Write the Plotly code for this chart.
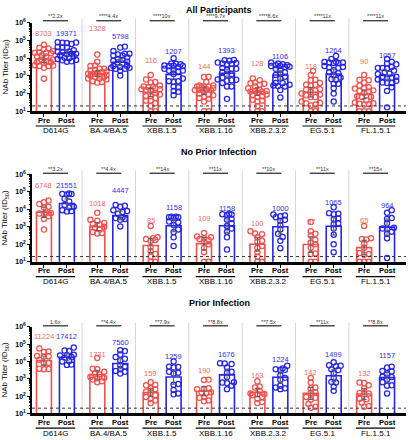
import numpy as np
import plotly.graph_objects as go

W, H = 408, 440

variants = ["D614G", "BA.4/BA.5", "XBB.1.5", "XBB.1.16", "XBB.2.3.2", "EG.5.1", "FL.1.5.1"]

# geometric mean titers (bar heights, printed labels)
gmt_p1_pre = [8703, 1328, 116, 144, 128, 118, 90]
gmt_p1_post = [19371, 5798, 1207, 1393, 1106, 1264, 1057]
gmt_p2_pre = [6748, 1018, 85, 109, 100, 97, 65]
gmt_p2_post = [21551, 4447, 1158, 1158, 1000, 1065, 964]
gmt_p3_pre = [11224, 1731, 159, 190, 163, 142, 132]
gmt_p3_post = [17412, 7560, 1259, 1676, 1224, 1499, 1157]

fold_p1 = ["**2.2x", "****4.4x", "****10x", "****9.7x", "****8.6x", "****11x", "****11x"]
fold_p2 = ["**3.2x", "**4.4x", "**14x", "**11x", "**10x", "**11x", "**15x"]
fold_p3 = ["1.6x", "**4.4x", "**7.9x", "**8.8x", "**7.5x", "**11x", "**8.8x"]

# individual log10 titers, No Prior Infection
p2_pre_log10 = [
    [4.50, 4.40, 4.30, 4.15, 4.10, 3.80, 3.78, 3.76, 3.74, 3.60, 3.45, 2.84],
    [3.80, 3.40, 3.35, 3.22, 3.18, 3.12, 3.00, 2.95, 2.85, 2.70, 2.65, 2.62],
    [3.05, 2.40, 2.35, 2.30, 2.25, 2.20, 1.85, 1.60, 1.45, 1.30, 1.00, 1.00],
    [2.65, 2.45, 2.40, 2.35, 2.30, 2.25, 2.15, 2.00, 1.80, 1.55, 1.00, 1.00],
    [2.75, 2.62, 2.58, 2.40, 2.20, 2.15, 1.90, 1.80, 1.55, 1.30, 1.00, 1.00],
    [3.28, 2.75, 2.60, 2.50, 2.25, 2.10, 2.00, 1.80, 1.48, 1.45, 1.00, 1.00],
    [3.05, 2.35, 2.30, 2.28, 2.05, 1.80, 1.50, 1.45, 1.40, 1.00, 1.00, 1.00],
]
p2_post_log10 = [
    [4.90, 4.88, 4.87, 4.85, 4.60, 4.45, 4.25, 4.15, 4.10, 3.95, 3.90, 3.88],
    [4.25, 4.20, 4.15, 3.95, 3.90, 3.85, 3.75, 3.55, 3.50, 3.45, 3.40, 3.02],
    [3.58, 3.57, 3.55, 3.55, 3.50, 3.30, 3.25, 3.10, 2.85, 2.70, 2.40, 1.90],
    [3.75, 3.72, 3.70, 3.68, 3.45, 3.40, 3.20, 3.05, 2.90, 2.72, 2.40, 1.70],
    [3.70, 3.65, 3.60, 3.55, 3.40, 3.35, 3.10, 2.85, 2.60, 2.42, 2.20, 1.78],
    [4.12, 3.78, 3.75, 3.72, 3.48, 3.45, 3.20, 3.15, 2.90, 2.55, 2.00, 1.55],
    [3.95, 3.80, 3.50, 3.45, 3.20, 2.95, 2.90, 2.88, 2.72, 2.60, 2.35, 1.22],
]
# individual log10 titers, Prior Infection
p3_pre_log10 = [
    [4.75, 4.58, 4.55, 4.32, 4.30, 4.28, 4.10, 3.92, 3.90, 3.58, 3.56, 3.55],
    [4.20, 3.58, 3.55, 3.40, 3.30, 3.25, 3.10, 3.05, 3.02, 2.95, 2.85, 2.80],
    [2.80, 2.65, 2.62, 2.45, 2.40, 2.25, 2.20, 2.05, 1.95, 1.85, 1.75, 1.60],
    [2.95, 2.93, 2.45, 2.42, 2.40, 2.22, 2.20, 2.18, 1.95, 1.90, 1.75, 1.70],
    [2.85, 2.55, 2.50, 2.30, 2.15, 2.12, 2.10, 2.05, 1.95, 1.85, 1.65, 1.60],
    [3.05, 2.78, 2.50, 2.45, 2.22, 2.18, 1.95, 1.90, 1.80, 1.55, 1.38, 1.33],
    [2.78, 2.75, 2.62, 2.45, 2.18, 2.15, 2.12, 1.85, 1.82, 1.62, 1.42, 1.38],
]
p3_post_log10 = [
    [4.80, 4.63, 4.60, 4.38, 4.36, 4.35, 4.25, 4.22, 4.02, 4.00, 3.82, 3.80],
    [4.65, 4.60, 4.40, 4.25, 4.15, 4.05, 3.80, 3.70, 3.55, 3.45, 3.40, 3.30],
    [4.00, 3.70, 3.68, 3.65, 3.40, 3.35, 3.30, 2.70, 2.65, 2.35, 2.15, 2.10],
    [3.90, 3.88, 3.85, 3.65, 3.40, 3.35, 3.10, 2.80, 2.78, 2.75, 2.60, 2.40],
    [3.75, 3.60, 3.55, 3.52, 3.50, 3.20, 3.05, 2.95, 2.60, 2.50, 2.45, 2.40],
    [3.95, 3.78, 3.75, 3.72, 3.55, 3.50, 3.32, 3.05, 2.82, 2.78, 2.55, 2.30],
    [3.70, 3.65, 3.45, 3.42, 3.30, 3.12, 3.10, 2.95, 2.80, 2.62, 2.60, 2.15],
]
# All participants = both cohorts together
p1_pre_log10 = [a + b for a, b in zip(p2_pre_log10, p3_pre_log10)]
p1_post_log10 = [a + b for a, b in zip(p2_post_log10, p3_post_log10)]

lod = 20

# ---- layout constants (text placement: log10 height of printed GMT labels) ----
lab_p1_pre = [5.39, 5.68, 3.89, 3.55, 3.72, 3.55, 3.83]
lab_p1_post = [5.39, 5.22, 4.39, 4.44, 4.10, 4.44, 4.17]
lab_p2_pre = [5.34, 4.34, 3.36, 3.45, 3.21, 3.32, 3.36]
lab_p2_post = [5.34, 5.09, 4.11, 4.07, 4.07, 4.39, 4.20]
lab_p3_pre = [5.43, 4.42, 3.32, 3.47, 3.18, 3.34, 3.30]
lab_p3_post = [5.43, 5.11, 4.30, 4.41, 4.09, 4.41, 4.32]

RED = "#f5504c"
BLUE = "#2424f0"
RED_T = "#f46a66"
BLUE_T = "#2f2ff0"
FONT = "Liberation Sans, Arial, sans-serif"

XL, XR = 32, 406
XRANGE = [-0.224, 6.785]
PPU = (XR - XL) / (XRANGE[1] - XRANGE[0])
POST_OFF = 0.43
BARW = 0.28


def py(px):
    return 1 - px / H


def swarm(vals, ppd, diam=4.6, maxw=8.5):
    ys = [v * ppd for v in vals]
    placed = []
    offs = [0.0] * len(ys)
    order = sorted(range(len(ys)), key=lambda i: ys[i])
    step = diam * 0.5
    cands = [0.0]
    k = 1
    while k * step <= maxw:
        cands += [k * step, -k * step]
        k += 1
    for i in order:
        best, bestd = 0.0, -1
        chosen = None
        for c in cands:
            dmin = min([((c - a) ** 2 + (ys[i] - b) ** 2) ** 0.5 for a, b in placed] or [99])
            if dmin >= diam * 0.95:
                chosen = c
                break
            if dmin > bestd:
                best, bestd = c, dmin
        if chosen is None:
            chosen = best
        placed.append((chosen, ys[i]))
        offs[i] = chosen / PPU
    return offs


panels = [
    dict(title="All Participants", pre=p1_pre_log10, post=p1_post_log10, gpre=gmt_p1_pre, gpost=gmt_p1_post,
         fold=fold_p1, lpre=lab_p1_pre, lpost=lab_p1_post, top=19, bot=109, brk=17, tpx=0),
    dict(title="No Prior Infection", pre=p2_pre_log10, post=p2_post_log10, gpre=gmt_p2_pre, gpost=gmt_p2_post,
         fold=fold_p2, lpre=lab_p2_pre, lpost=lab_p2_post, top=173, bot=262, brk=172, tpx=144),
    dict(title="Prior Infection", pre=p3_pre_log10, post=p3_post_log10, gpre=gmt_p3_pre, gpost=gmt_p3_post,
         fold=fold_p3, lpre=lab_p3_pre, lpost=lab_p3_post, top=328, bot=416, brk=327, tpx=298),
]

fig = go.Figure()
shapes = []
annotations = []
layout_axes = {}


def ann(**kw):
    d = dict(showarrow=False, xanchor="center", yanchor="middle")
    d.update(kw)
    annotations.append(d)


for k, P in enumerate(panels):
    sfx = "" if k == 0 else str(k + 1)
    xa, ya = "x" + sfx, "y" + sfx
    ppd = (P["bot"] - P["top"]) / 5.0
    pre_x = [float(i) for i in range(len(variants))]
    post_x = [i + POST_OFF for i in pre_x]

    for xs, g, col in ((pre_x, P["gpre"], RED), (post_x, P["gpost"], BLUE)):
        fig.add_trace(go.Bar(x=xs, y=g, width=BARW, xaxis=xa, yaxis=ya,
                             marker=dict(color="rgba(255,255,255,0)", line=dict(color=col, width=1.6)),
                             hoverinfo="skip"))

    for xs, data, col in ((pre_x, P["pre"], RED), (post_x, P["post"], BLUE)):
        px_all, py_all = [], []
        for xc, vals in zip(xs, data):
            offs = swarm(vals, ppd, maxw=9.5 if len(vals) > 12 else 7.5)
            px_all += [xc + o for o in offs]
            py_all += [10 ** v for v in vals]
        fig.add_trace(go.Scatter(x=px_all, y=py_all, mode="markers", xaxis=xa, yaxis=ya, cliponaxis=False,
                                 marker=dict(symbol="circle-open", size=5.2, color=col, line=dict(width=1.25)),
                                 hoverinfo="skip"))

    for xs, data, g in ((pre_x, P["pre"], P["gpre"]), (post_x, P["post"], P["gpost"])):
        up, dn = [], []
        for vals, gm in zip(data, g):
            v = np.array(vals)
            n = len(v)
            t = 2.2 if n <= 12 else 2.07
            se = v.std(ddof=1) / np.sqrt(n)
            lg = np.log10(gm)
            up.append(10 ** (lg + t * se) - gm)
            dn.append(gm - 10 ** (lg - t * se))
        fig.add_trace(go.Scatter(x=xs, y=g, mode="markers", xaxis=xa, yaxis=ya,
                                 marker=dict(size=1, color="rgba(0,0,0,0)"),
                                 error_y=dict(type="data", symmetric=False, array=up, arrayminus=dn,
                                              color="#606060", thickness=1.1, width=2.5),
                                 hoverinfo="skip"))

    layout_axes["xaxis" + sfx] = dict(domain=[XL / W, XR / W], range=XRANGE, anchor=ya,
                                      showline=True, linecolor="black", linewidth=2.5,
                                      ticks="outside", ticklen=3, tickwidth=1.3, tickcolor="black",
                                      tickvals=pre_x + post_x, showticklabels=False,
                                      showgrid=False, zeroline=False, fixedrange=True)
    layout_axes["yaxis" + sfx] = dict(domain=[py(P["bot"]), py(P["top"])], type="log", range=[1, 6],
                                      anchor=xa, showline=True, linecolor="black", linewidth=1.5,
                                      ticks="outside", ticklen=3, tickwidth=1.2, tickcolor="black",
                                      tickvals=[10 ** e for e in range(1, 7)],
                                      ticktext=["<b>10<sup>%d</sup></b>" % e for e in range(1, 7)],
                                      tickfont=dict(size=7, color="black", family=FONT),
                                      minor=dict(ticks="outside", ticklen=1.5, tickcolor="black",
                                                 tickwidth=0.8, dtick="D1", showgrid=False),
                                      showgrid=False, zeroline=False, fixedrange=True)

    # LOD dotted line
    shapes.append(dict(type="line", xref=xa + " domain", x0=0, x1=1, yref=ya, y0=lod, y1=lod,
                       line=dict(color="#333333", width=1, dash="dot")))
    # separators
    for i in range(len(variants) - 1):
        xs_ = i + POST_OFF / 2 + 0.5
        shapes.append(dict(type="line", xref=xa, x0=xs_, x1=xs_, yref="paper",
                           y0=py(P["bot"]), y1=py(P["top"] - 4), layer="below",
                           line=dict(color="#d4d4d4", width=1)))
    for i, v in enumerate(variants):
        mid = i + POST_OFF / 2
        # significance bracket
        shapes.append(dict(type="line", xref=xa, x0=pre_x[i] - 0.02, x1=post_x[i] + 0.02, yref="paper",
                           y0=py(P["brk"]), y1=py(P["brk"]), line=dict(color="#333333", width=1.3)))
        ann(x=mid, xref=xa, y=py(P["brk"] - 0.3), yref="paper", yanchor="bottom", borderpad=0,
            text=P["fold"][i], font=dict(size=5.5, color="#333333", family=FONT))
        # GMT labels
        ann(x=pre_x[i], xref=xa, y=P["lpre"][i], yref=ya, text=str(P["gpre"][i]),
            font=dict(size=7.5, color=RED_T, family=FONT))
        ann(x=post_x[i], xref=xa, y=P["lpost"][i], yref=ya, text=str(P["gpost"][i]),
            font=dict(size=7.5, color=BLUE_T, family=FONT))
        # Pre / Post
        ann(x=pre_x[i], xref=xa, y=py(P["bot"] + 9), yref="paper", text="<b>Pre</b>",
            font=dict(size=7.5, color="black", family=FONT))
        ann(x=post_x[i], xref=xa, y=py(P["bot"] + 9), yref="paper", text="<b>Post</b>",
            font=dict(size=7.5, color="black", family=FONT))
        shapes.append(dict(type="line", xref=xa, x0=mid - 0.37, x1=mid + 0.37, yref="paper",
                           y0=py(P["bot"] + 15), y1=py(P["bot"] + 15), line=dict(color="black", width=1.1)))
        ann(x=mid, xref=xa, y=py(P["bot"] + 20), yref="paper", text=v,
            font=dict(size=8, color="black", family=FONT))
    # titles
    ann(x=(XL + XR) / 2 / W, xref="paper", y=py(P["tpx"]), yref="paper", yanchor="top", borderpad=0,
        text="<b>%s</b>" % P["title"], font=dict(size=9, color="black", family=FONT))
    ann(x=5.5 / W, xref="paper", y=py((P["top"] + P["bot"]) / 2), yref="paper",
        text="NAb Titer (ID<sub>50</sub>)", textangle=-90, font=dict(size=8, color="black", family=FONT))

fig.update_layout(width=W, height=H, margin=dict(l=0, r=0, t=0, b=0),
                  paper_bgcolor="white", plot_bgcolor="white", showlegend=False,
                  barmode="overlay", shapes=shapes, annotations=annotations,
                  font=dict(family=FONT), **layout_axes)

fig.write_html("out.html", config={"displayModeBar": False},
               post_script="document.body.style.margin='0';")
